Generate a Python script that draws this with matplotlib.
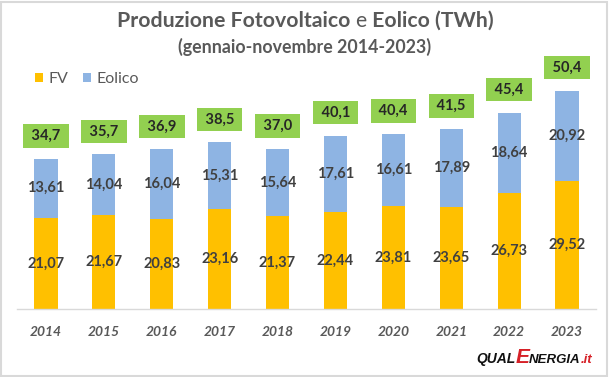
import matplotlib
matplotlib.use("Agg")
import matplotlib.pyplot as plt
from matplotlib.patches import Rectangle

years = ["2014", "2015", "2016", "2017", "2018", "2019", "2020", "2021", "2022", "2023"]
fv = [21.07, 21.67, 20.83, 23.16, 21.37, 22.44, 23.81, 23.65, 26.73, 29.52]
eolico = [13.61, 14.04, 16.04, 15.31, 15.64, 17.61, 16.61, 17.89, 18.64, 20.92]
totali = ["34,7", "35,7", "36,9", "38,5", "37,0", "40,1", "40,4", "41,5", "45,4", "50,4"]

FV_COLOR = "#FFC000"
EOL_COLOR = "#8EB4E3"
GREEN = "#92D050"
TXT = "#404040"
GREY = "#595959"

plt.rcParams["font.family"] = ["Lato", "DejaVu Sans"]


def fmt(v):
    return f"{v:.2f}".replace(".", ",")


fig = plt.figure(figsize=(6.09, 3.77), dpi=100)
ax = fig.add_axes([17 / 609, 68 / 377, 579 / 609, 249 / 377])

x = list(range(len(years)))
ax.bar(x, fv, width=0.40, color=FV_COLOR, label="FV")
ax.bar(x, eolico, width=0.40, bottom=fv, color=EOL_COLOR, label="Eolico")

for i in x:
    ax.text(i, fv[i] / 2, fmt(fv[i]), ha="center", va="center",
            fontsize=10.5, fontweight="bold", color=TXT)
    ax.text(i, fv[i] + eolico[i] / 2, fmt(eolico[i]), ha="center", va="center",
            fontsize=10.5, fontweight="bold", color=TXT)
    # total in a green box above the stack
    ax.annotate(" " + totali[i] + " ", xy=(i, fv[i] + eolico[i]), xytext=(0, 16.5),
                textcoords="offset points", ha="center", va="center",
                fontsize=10.5, fontweight="bold", color="#262626",
                bbox=dict(boxstyle="square,pad=0.33", fc=GREEN, ec="none"))

ax.set_xlim(-0.5, len(years) - 0.5)
ax.set_ylim(0, 57.5)
ax.set_yticks([])
ax.set_xticks(x)
ax.set_xticklabels(years, fontsize=10, fontweight="bold", style="italic", color=GREY)
ax.tick_params(axis="x", length=0, pad=12)
for s in ("top", "right", "left"):
    ax.spines[s].set_visible(False)
ax.spines["bottom"].set_color("#D9D9D9")
ax.spines["bottom"].set_linewidth(1.0)

# legend
ax.legend(loc="center left", bbox_to_anchor=((35 - 17) / 579, (309 - 79) / 249), ncol=2,
          frameon=False, fontsize=11.5, handlelength=0.5, handleheight=0.5,
          handletextpad=0.35, columnspacing=0.9, labelcolor=GREY,
          borderaxespad=0, borderpad=0)

# title with the plain "e" in the middle
fig.canvas.draw()
r = fig.canvas.get_renderer()
parts = [("Produzione Fotovoltaico ", "bold"), ("e", "normal"), (" Eolico (TWh)", "bold")]
texts = []
for s, w in parts:
    t = fig.text(0, 1 - 21 / 377, s, fontsize=15.3, fontweight=w, color=GREY,
                 ha="left", va="center")
    texts.append(t)
widths = [t.get_window_extent(r).width for t in texts]
xpos = 305 - sum(widths) / 2
for t, w in zip(texts, widths):
    t.set_x(xpos / 609)
    xpos += w

fig.text(305 / 609, 1 - 47 / 377, "(gennaio-novembre 2014-2023)", fontsize=12.8,
         fontweight="bold", color=GREY, ha="center", va="center")

# logo
logo = [("QUAL", "#111111", 10), ("E", "#D62027", 15), ("NERGIA", "#111111", 9.5),
        (".it", "#D62027", 9.5)]
xpos = 476
for s, c, fs in logo:
    t = fig.text(xpos / 609, 1 - 363 / 377, s, fontsize=fs, fontweight="heavy",
                 style="italic", color=c, ha="left", va="baseline",
                 family=["Liberation Sans Narrow", "Liberation Sans"])
    xpos += t.get_window_extent(r).width

fig.patches.append(Rectangle((0.002, 0.003), 0.995, 0.993, transform=fig.transFigure,
                             fill=False, ec="#D9D9D9", lw=1.5))

fig.savefig("out.png", dpi=100, facecolor="white")
